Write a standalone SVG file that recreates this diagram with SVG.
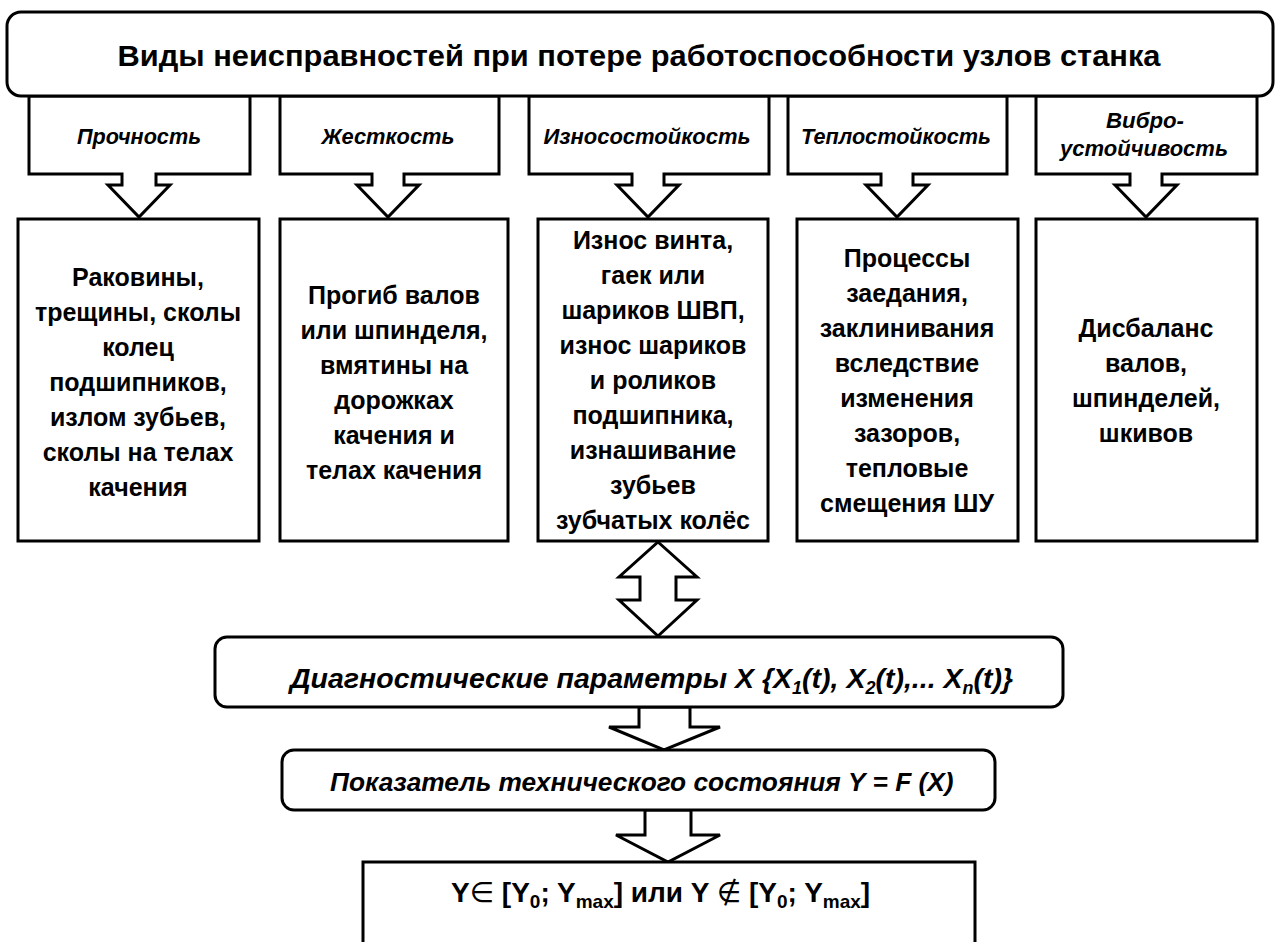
<svg xmlns="http://www.w3.org/2000/svg" width="1278" height="942" viewBox="0 0 1278 942">
<style>
.box{fill:#fff;stroke:#000;stroke-width:3;stroke-linejoin:miter}
.arr{fill:#fff;stroke:#000;stroke-width:3;stroke-linejoin:miter}
text{font-family:"Liberation Sans","DejaVu Sans",sans-serif;font-weight:bold;fill:#000}
.title{font-size:30px;text-anchor:middle}
.lbl{font-size:22px;font-style:italic;text-anchor:middle}
.node{font-size:25px;text-anchor:middle}
.diag{font-size:28.5px;font-style:italic}
.res{font-size:28px}
.sym{font-weight:normal}
</style>
<rect width="1278" height="942" fill="#fff"/>
<g id="callouts">
<g id="c1"><path class="arr" d="M29,96 V174 H122 V185 H108 L139,217 L170,185 H156 V174 H250 V96 Z"/><text class="lbl" x="139" y="144" textLength="124" lengthAdjust="spacingAndGlyphs">Прочность</text></g>
<g id="c2"><path class="arr" d="M280,96 V174 H372 V185 H357 L388,217 L419,185 H404 V174 H499 V96 Z"/><text class="lbl" x="388" y="144" textLength="133" lengthAdjust="spacingAndGlyphs">Жесткость</text></g>
<g id="c3"><path class="arr" d="M529,96 V174 H632 V185 H617 L648,217 L679,185 H664 V174 H769 V96 Z"/><text class="lbl" x="647" y="144" textLength="207" lengthAdjust="spacingAndGlyphs">Износостойкость</text></g>
<g id="c4"><path class="arr" d="M788,96 V174 H881 V185 H866 L897,217 L928,185 H913 V174 H1007 V96 Z"/><text class="lbl" x="896" y="144" textLength="190" lengthAdjust="spacingAndGlyphs">Теплостойкость</text></g>
<g id="c5"><path class="arr" d="M1036,96 V174 H1130 V185 H1115 L1146,217 L1177,185 H1162 V174 H1257 V96 Z"/><text class="lbl" x="1145" y="128" textLength="78" lengthAdjust="spacingAndGlyphs">Вибро-</text><text class="lbl" x="1144" y="156" textLength="168" lengthAdjust="spacingAndGlyphs">устойчивость</text></g>
</g>
<g id="connectors">
<path class="arr" d="M658,542 L697,577 H676 V600 H697 L658,636 L619,600 H640 V577 H619 Z"/>
<path class="arr" d="M639,707 V727 H609 L664,750 L720,727 H690 V707 Z"/>
<path class="arr" d="M645,810 V835 H616 L668,862 L720,835 H691 V810 Z"/>
</g>
<g id="top"><rect class="box" x="7" y="12" width="1266" height="84" rx="14"/><text class="title" x="639" y="66" textLength="1043" lengthAdjust="spacingAndGlyphs">Виды неисправностей при потере работоспособности узлов станка</text></g>
<g id="n1"><rect class="box" x="18" y="219" width="241" height="322"/>
<text class="node"><tspan x="138" y="286">Раковины,</tspan><tspan x="138" y="321">трещины, сколы</tspan><tspan x="138" y="356">колец</tspan><tspan x="138" y="391">подшипников,</tspan><tspan x="138" y="426">излом зубьев,</tspan><tspan x="138" y="461">сколы на телах</tspan><tspan x="138" y="496">качения</tspan></text></g>
<g id="n2"><rect class="box" x="280" y="219" width="228" height="322"/>
<text class="node"><tspan x="394" y="304">Прогиб валов</tspan><tspan x="394" y="339">или шпинделя,</tspan><tspan x="394" y="374">вмятины  на</tspan><tspan x="394" y="409">дорожках</tspan><tspan x="394" y="444">качения и</tspan><tspan x="394" y="479">телах качения</tspan></text></g>
<g id="n3"><rect class="box" x="538" y="219" width="230" height="322"/>
<text class="node"><tspan x="653" y="249">Износ винта,</tspan><tspan x="653" y="284">гаек или</tspan><tspan x="653" y="319">шариков ШВП,</tspan><tspan x="653" y="354">износ шариков</tspan><tspan x="653" y="389">и роликов</tspan><tspan x="653" y="424">подшипника,</tspan><tspan x="653" y="459">изнашивание</tspan><tspan x="653" y="494">зубьев</tspan><tspan x="653" y="529">зубчатых колёс</tspan></text></g>
<g id="n4"><rect class="box" x="797" y="219" width="221" height="322"/>
<text class="node"><tspan x="907" y="267">Процессы</tspan><tspan x="907" y="302">заедания,</tspan><tspan x="907" y="337">заклинивания</tspan><tspan x="907" y="372">вследствие</tspan><tspan x="907" y="407">изменения</tspan><tspan x="907" y="442">зазоров,</tspan><tspan x="907" y="477">тепловые</tspan><tspan x="907" y="512">смещения ШУ</tspan></text></g>
<g id="n5"><rect class="box" x="1036" y="219" width="221" height="322"/>
<text class="node"><tspan x="1146" y="337">Дисбаланс</tspan><tspan x="1146" y="372">валов,</tspan><tspan x="1146" y="407">шпинделей,</tspan><tspan x="1146" y="442">шкивов</tspan></text></g>
<g id="diag"><rect class="box" x="215" y="637" width="848" height="70" rx="12"/>
<text class="diag" x="290" y="688">Диагностические параметры X {X<tspan font-size="18" dy="6">1</tspan><tspan dy="-6">(t), X</tspan><tspan font-size="18" dy="6">2</tspan><tspan dy="-6">(t),... X</tspan><tspan font-size="18" dy="6">n</tspan><tspan dy="-6">(t)}</tspan></text></g>
<g id="state"><rect class="box" x="282" y="750" width="713" height="60" rx="12"/>
<text class="diag" x="330" y="791" style="font-size:26.3px">Показатель технического состояния Y = F (X)</text></g>
<g id="result"><rect class="box" x="363" y="862" width="612" height="100"/>
<text class="res" x="451" y="902">Y<tspan class="sym">∈</tspan> [Y<tspan font-size="19" dy="6">0</tspan><tspan dy="-6">; Y</tspan><tspan font-size="19" dy="6">max</tspan><tspan dy="-6">] или Y </tspan><tspan class="sym">∉</tspan> [Y<tspan font-size="19" dy="6">0</tspan><tspan dy="-6">; Y</tspan><tspan font-size="19" dy="6">max</tspan><tspan dy="-6">]</tspan></text></g>
</svg>
